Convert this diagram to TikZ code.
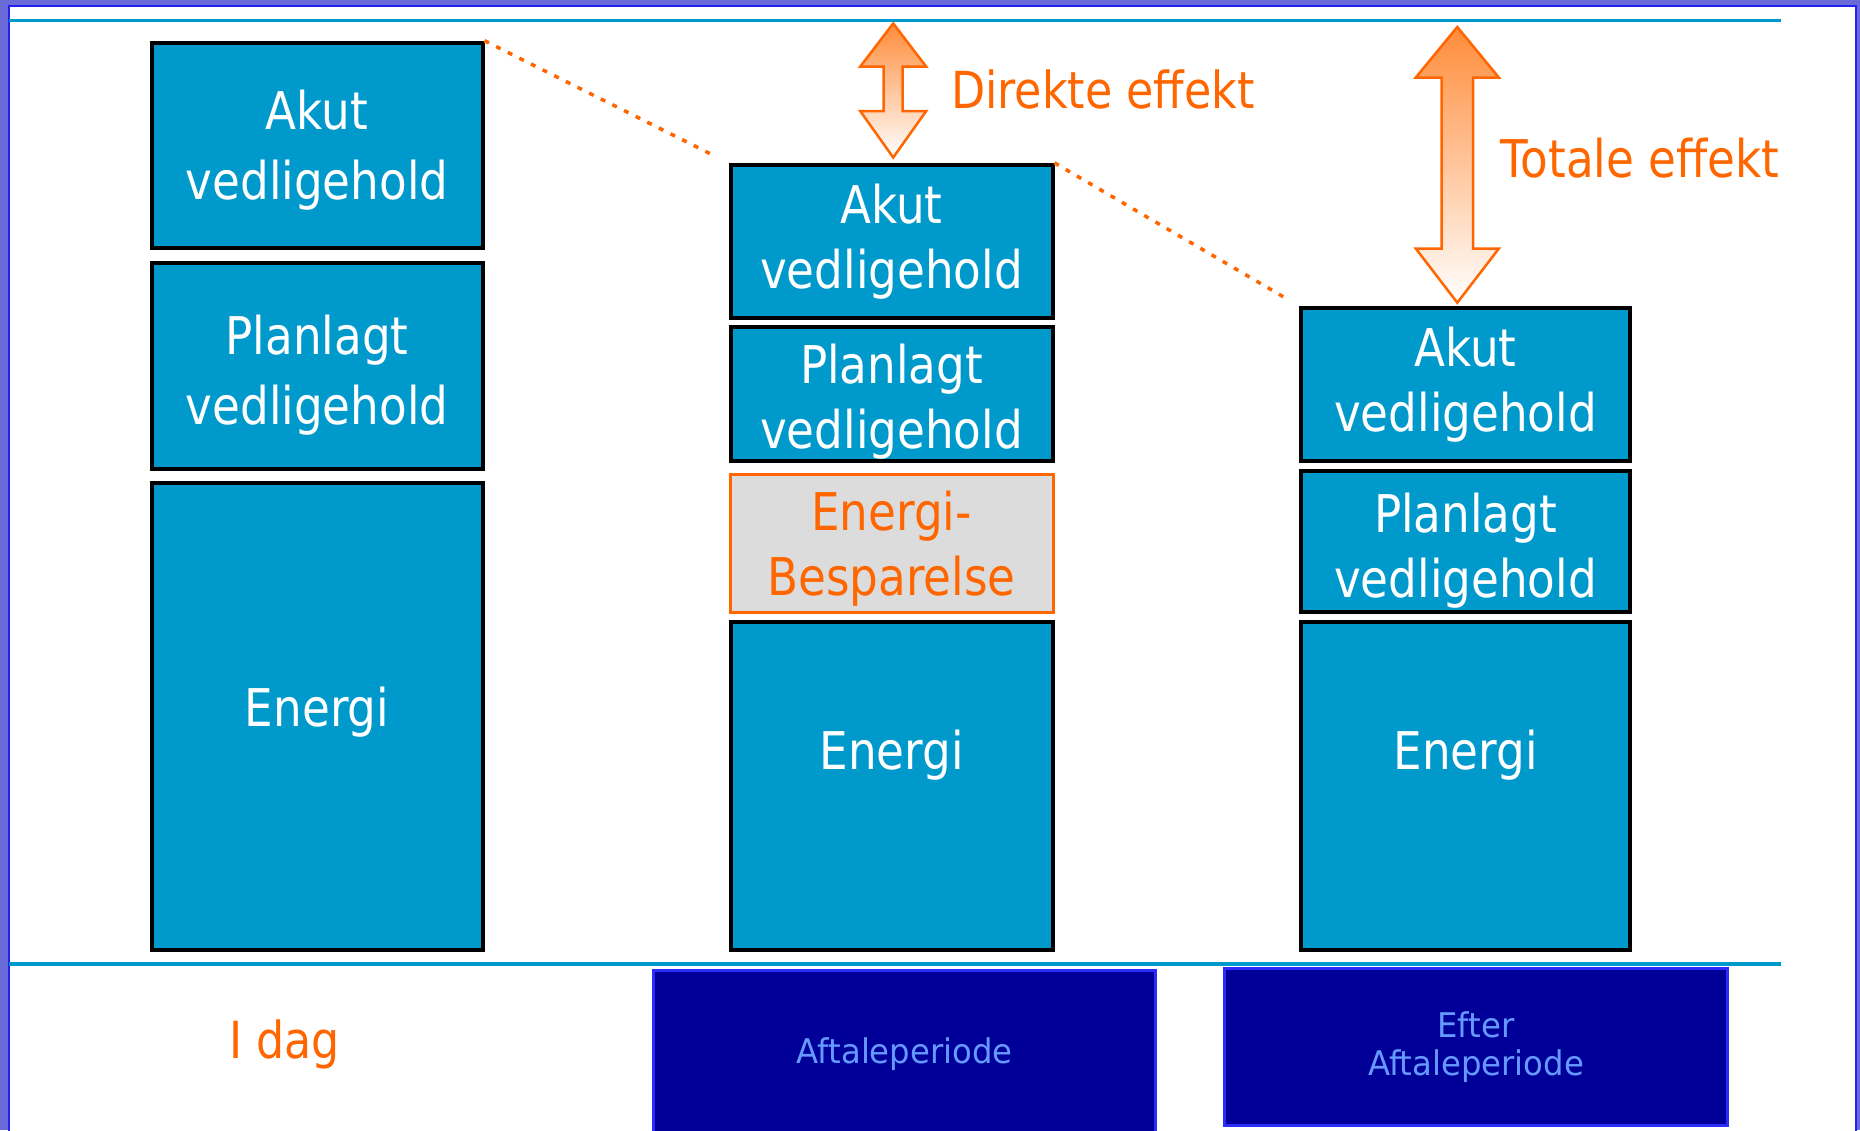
\documentclass[tikz,border=0pt]{standalone}
\usepackage{fontspec}
\newfontfamily\pixfont{DejaVu Sans}[FakeStretch=0.87]
\newfontfamily\capfont{DejaVu Sans}[FakeStretch=0.95]
\definecolor{tealA}{HTML}{0099CC}
\definecolor{orangeA}{HTML}{FF6600}
\definecolor{grayA}{HTML}{DCDCDC}
\definecolor{navyA}{HTML}{000099}
\definecolor{blueA}{HTML}{2B2BFF}
\definecolor{lblue}{HTML}{6699FF}
\definecolor{frameA}{HTML}{6A6AD8}
\definecolor{frameB}{HTML}{2222EE}
\definecolor{arrTop}{HTML}{FF8C3A}
\definecolor{arrMid}{HTML}{FFCC9E}
\newcommand{\tallstrut}[1]{\rule{0pt}{#1}}
\begin{document}
\begin{tikzpicture}[x=1pt,y=-1pt,
  box/.style={draw=black, line width=4pt, fill=tealA, text=white,
    font=\pixfont\fontsize{52}{65}\selectfont, align=center, inner sep=0pt},
  boxL/.style={box, font=\pixfont\fontsize{52}{70}\selectfont},
  savebox/.style={box, draw=orangeA, line width=3pt, fill=grayA, text=orangeA},
  navbox/.style={draw=blueA, line width=3pt, fill=navyA, text=lblue,
    font=\capfont\fontsize{34}{38}\selectfont, align=center, inner sep=0pt},
  dotline/.style={draw=orangeA, line width=3.5pt, dash pattern=on 5pt off 8pt},
  rulel/.style={draw=tealA, line width=3.5pt},
  effarrow/.style={draw=orangeA, line width=2.5pt, top color=arrTop,
    middle color=arrMid, bottom color=white},
  lbl/.style={text=orangeA, font=\pixfont\fontsize{51}{60}\selectfont, inner sep=0pt}
]
\useasboundingbox (0,0) rectangle (1860,1130);
% slide background and white panel
\fill[frameA] (0,0) rectangle (1860,1130);
\filldraw[fill=white, draw=frameB, line width=2pt] (9,6) rectangle (1856,1140);

% horizontal rules
\coordinate (t1) at (9,20.5);
\coordinate (t2) at (1781,20.5);
\coordinate (b1) at (9,964);
\coordinate (b2) at (1781,964);
\draw[rulel] (t1) -- (t2);

% bottom period boxes
\node[navbox, minimum width=501.6pt, minimum height=168pt] (pAft) at (904.7,1054) {Aftaleperiode};
\node[navbox, minimum width=503pt, minimum height=157pt] (pEft) at (1476,1047) {Efter\\Aftaleperiode};
\draw[rulel] (b1) -- (b2);

% left column: I dag
\node[boxL, minimum width=331pt, minimum height=205pt] (lA) at (317,145.2) {\tallstrut{50pt}Akut\\vedligehold};
\node[boxL, minimum width=331pt, minimum height=206pt] (lP) at (317,365.5) {\tallstrut{58pt}Planlagt\\vedligehold};
\node[box, minimum width=331pt, minimum height=467pt, text depth=18pt] (lE) at (317,716) {Energi};

% middle column
\node[box, minimum width=322pt, minimum height=152.7pt] (mA) at (891.5,241.2) {Akut\\vedligehold};
\node[box, minimum width=322pt, minimum height=133.3pt] (mP) at (891.5,394) {\tallstrut{54pt}Planlagt\\vedligehold};
\node[savebox, minimum width=323pt, minimum height=137.5pt] (mS) at (891.5,543.4) {\tallstrut{50pt}Energi-\\Besparelse};
\node[box, minimum width=322pt, minimum height=327.6pt, text depth=72pt] (mE) at (891.5,785.8) {Energi};

% right column
\node[box, minimum width=329.3pt, minimum height=152.8pt] (rA) at (1465.5,384.3) {Akut\\vedligehold};
\node[box, minimum width=329.3pt, minimum height=140.4pt] (rP) at (1465.5,541.4) {\tallstrut{58pt}Planlagt\\vedligehold};
\node[box, minimum width=329.3pt, minimum height=327.6pt, text depth=72pt] (rE) at (1465.5,785.8) {Energi};

% dotted connectors
\draw[dotline, shorten >=18pt] (lA.north east) -- (mA.north west);
\draw[dotline, shorten >=15pt] (mA.north east) -- (rA.north west);

% effect arrows
\path[effarrow] (893.2,23.4) -- (926.2,66.7) -- (902.7,66.7) -- (902.7,111) -- (926.2,111)
  -- (893.2,157.5) -- (860.2,111) -- (883.7,111) -- (883.7,66.7) -- (860.2,66.7) -- cycle;
\path[effarrow] (1457.3,27) -- (1498.8,77.5) -- (1473,77.5) -- (1473,248.6) -- (1498.8,248.6)
  -- (1457.3,302.7) -- (1415.8,248.6) -- (1441.6,248.6) -- (1441.6,77.5) -- (1415.8,77.5) -- cycle;

% labels
\node[lbl, anchor=base west] (dir) at (950.8,108) {Direkte effekt};
\node[lbl, anchor=base west, font=\pixfont\fontsize{52}{60}\selectfont] (tot) at (1500.6,177) {Totale effekt};
\node[lbl, anchor=base west] (idag) at (229,1058.6) {I dag};
\end{tikzpicture}
\end{document}
